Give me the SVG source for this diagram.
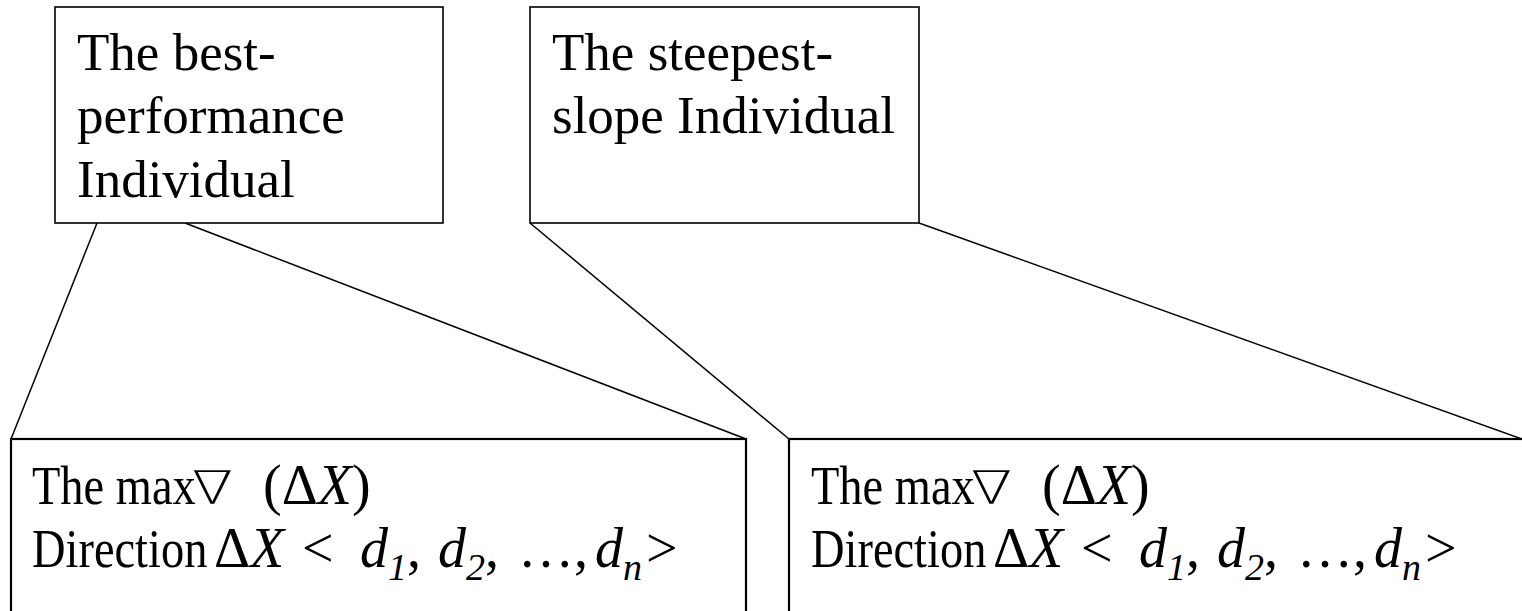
<svg xmlns="http://www.w3.org/2000/svg" width="1522" height="611" viewBox="0 0 1522 611">
<style>
  .box { fill: #fff; stroke: #000; stroke-width: 1.6; }
  .boxb { fill: #fff; stroke: #000; stroke-width: 2.2; }
  .ln { stroke: #000; stroke-width: 1.5; fill: none; }
  .t { font-family: "Liberation Serif", "Times New Roman", serif; font-size: 53px; fill: #000; }
  .b { font-family: "Liberation Serif", "Times New Roman", serif; font-size: 54px; fill: #000; }
  .s { font-family: "Liberation Serif", "Times New Roman", serif; font-size: 56px; fill: #000; }
  .i { font-style: italic; }
  .nab { font-family: "DejaVu Sans", "DejaVu Serif", sans-serif; font-weight: 200; font-size: 46px; fill: #000; }
  .sub { font-size: 38px; font-style: italic; }
</style>
<rect width="1522" height="611" fill="#fff"/>
<g id="connectors">
  <line class="ln" x1="97" y1="223" x2="11" y2="439"/>
  <line class="ln" x1="185" y1="223" x2="746" y2="439"/>
  <line class="ln" x1="530" y1="223" x2="789" y2="439"/>
  <line class="ln" x1="919" y1="223" x2="1522" y2="439"/>
</g>
<g id="node-best">
  <rect class="box" x="55" y="7" width="388" height="216"/>
  <text class="t" x="77" y="70">The best-</text>
  <text class="t" x="77" y="133">performance</text>
  <text class="t" x="77" y="197">Individual</text>
</g>
<g id="node-steepest">
  <rect class="box" x="530" y="7" width="389" height="216"/>
  <text class="t" x="552" y="70">The steepest-</text>
  <text class="t" x="552" y="133">slope Individual</text>
</g>
<g id="node-dir-left">
  <rect class="boxb" x="11" y="439" width="735" height="200"/>
  <text class="b" transform="translate(32,504) scale(0.86,1)">The max</text>
  <text class="nab" transform="translate(192,504) scale(1.3,1)">∇</text>
  <text class="s" y="504"><tspan x="263">(Δ</tspan><tspan class="i">X</tspan><tspan>)</tspan></text>
  <text class="b" transform="translate(32,567) scale(0.86,1)">Direction</text>
  <text class="s" y="567"><tspan x="214">Δ</tspan><tspan class="i">X</tspan><tspan x="302">&lt;</tspan><tspan x="360" class="i">d</tspan><tspan dy="13" class="sub">1</tspan><tspan dy="-13">,</tspan><tspan x="438" class="i">d</tspan><tspan dy="13" class="sub">2</tspan><tspan dy="-13">,</tspan><tspan x="518">…,</tspan><tspan x="595" class="i">d</tspan><tspan dy="13" class="sub">n</tspan><tspan x="646" dy="-13">&gt;</tspan></text>
</g>
<g id="node-dir-right">
  <rect class="boxb" x="789" y="439" width="760" height="200"/>
  <g transform="translate(779,0)">
  <text class="b" transform="translate(32,504) scale(0.86,1)">The max</text>
  <text class="nab" transform="translate(192,504) scale(1.3,1)">∇</text>
  <text class="s" y="504"><tspan x="263">(Δ</tspan><tspan class="i">X</tspan><tspan>)</tspan></text>
  <text class="b" transform="translate(32,567) scale(0.86,1)">Direction</text>
  <text class="s" y="567"><tspan x="214">Δ</tspan><tspan class="i">X</tspan><tspan x="302">&lt;</tspan><tspan x="360" class="i">d</tspan><tspan dy="13" class="sub">1</tspan><tspan dy="-13">,</tspan><tspan x="438" class="i">d</tspan><tspan dy="13" class="sub">2</tspan><tspan dy="-13">,</tspan><tspan x="518">…,</tspan><tspan x="595" class="i">d</tspan><tspan dy="13" class="sub">n</tspan><tspan x="646" dy="-13">&gt;</tspan></text>
  </g>
</g>
</svg>
